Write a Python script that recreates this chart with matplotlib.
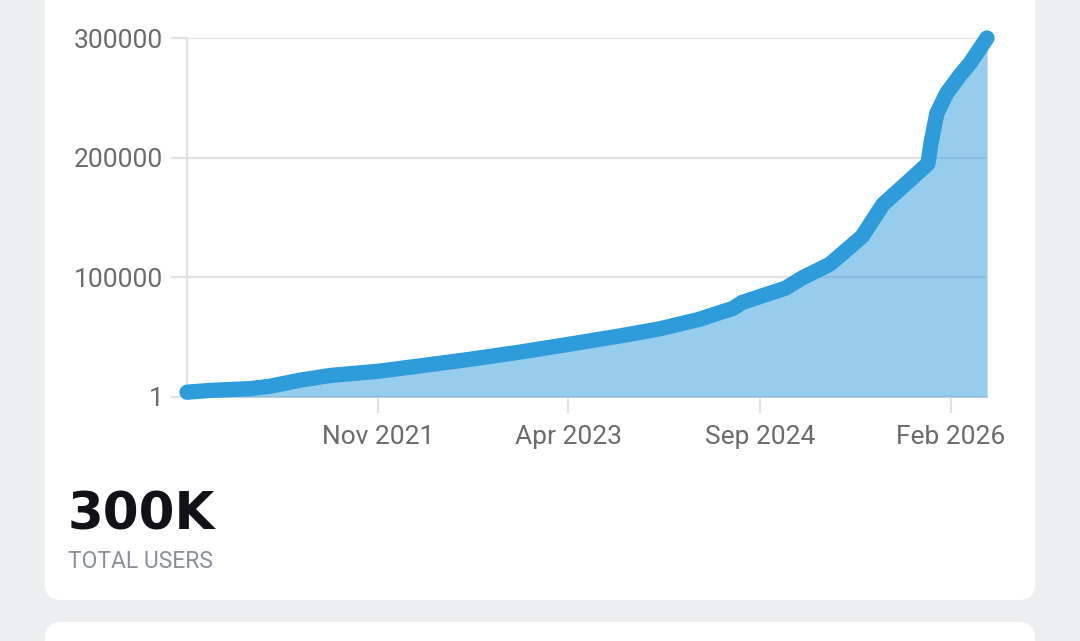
import matplotlib.pyplot as plt
import matplotlib.dates as mdates
import matplotlib.transforms as mtransforms
import numpy as np
import pandas as pd
from matplotlib.patches import FancyBboxPatch

# values
dates = ["2020-06-01", "2020-08-02", "2020-11-19", "2021-01-12", "2021-04-03",
         "2021-06-24", "2021-11-01", "2022-02-23", "2022-07-08", "2022-11-20",
         "2023-04-01", "2023-08-18", "2023-12-05", "2024-03-22", "2024-05-15",
         "2024-06-20", "2024-07-15", "2024-11-10", "2024-12-25", "2025-03-10",
         "2025-06-05", "2025-08-01", "2025-10-05", "2025-12-01", "2025-12-09",
         "2025-12-25", "2026-01-21", "2026-02-26", "2026-03-25", "2026-05-10"]
users = [4000, 5500, 7000, 9000, 14000,
         18000, 21500, 26000, 31500, 37500,
         44000, 51000, 57000, 65000, 70500,
         74000, 79000, 91000, 99500, 111000,
         134000, 161000, 179000, 195000, 212000,
         237000, 254000, 269000, 279000, 300000]

y_ticks = [1, 100000, 200000, 300000]
x_ticks = ["2021-11-01", "2023-04-01", "2024-09-01", "2026-02-01"]

total_label = "300K"
total_caption = "TOTAL USERS"

LINE_COLOR = "#2e9bdb"
GRID_COLOR = "#e2e2e4"
TICK_TEXT = "#6b6b6b"
BG_COLOR = "#edeef0"

W, H = 1080, 641
fig = plt.figure(figsize=(W / 100, H / 100), dpi=100)
fig.patch.set_facecolor(BG_COLOR)

# white cards (pixel coordinates)
ident = mtransforms.IdentityTransform()
card = FancyBboxPatch((45, H - 600), 990, 640, boxstyle="round,pad=0,rounding_size=16",
                      facecolor="white", edgecolor="none", transform=ident, zorder=0)
fig.add_artist(card)
card2 = FancyBboxPatch((45, H - 1000), 990, 378, boxstyle="round,pad=0,rounding_size=16",
                       facecolor="white", edgecolor="none", transform=ident, zorder=0)
fig.add_artist(card2)

ax = fig.add_axes([187 / W, (H - 397) / H, 800 / W, 359 / H])
ax.set_facecolor("none")

x = pd.to_datetime(dates)
y = np.array(users)

ax.fill_between(x, y, 1, color=LINE_COLOR, alpha=0.5, linewidth=0, zorder=3)
ax.plot(x, y, color=LINE_COLOR, linewidth=11, solid_capstyle="round",
        solid_joinstyle="round", clip_on=False, zorder=4)

ax.set_xlim(x[0], x[-1])
ax.set_ylim(1, 300000)
ax.set_yticks(y_ticks)
ax.set_yticklabels([str(v) for v in y_ticks])
ax.set_xticks(pd.to_datetime(x_ticks))
ax.xaxis.set_major_formatter(mdates.DateFormatter("%b %Y"))

ax.grid(axis="y", color=GRID_COLOR, linewidth=1.5, zorder=1)
ax.set_axisbelow(True)
for side in ["top", "right"]:
    ax.spines[side].set_visible(False)
for side in ["left", "bottom"]:
    ax.spines[side].set_color(GRID_COLOR)
    ax.spines[side].set_linewidth(1.5)
    ax.spines[side].set_zorder(2)

ax.tick_params(axis="both", colors=GRID_COLOR, width=1.5, length=11.5,
               labelcolor=TICK_TEXT, labelsize=19)
ax.tick_params(axis="x", pad=9)
ax.tick_params(axis="y", pad=5.5)
for lbl in ax.get_xticklabels() + ax.get_yticklabels():
    lbl.set_fontfamily("Roboto")

fig.text(68 / W, (H - 529) / H, total_label, fontsize=37, fontweight="heavy",
         family="DejaVu Sans", color="#111118", ha="left", va="baseline")
fig.text(68 / W, (H - 568) / H, total_caption, fontsize=16.5, family="Roboto",
         color="#8a8f98", ha="left", va="baseline")

fig.savefig("out.png", dpi=100, facecolor=fig.get_facecolor())
